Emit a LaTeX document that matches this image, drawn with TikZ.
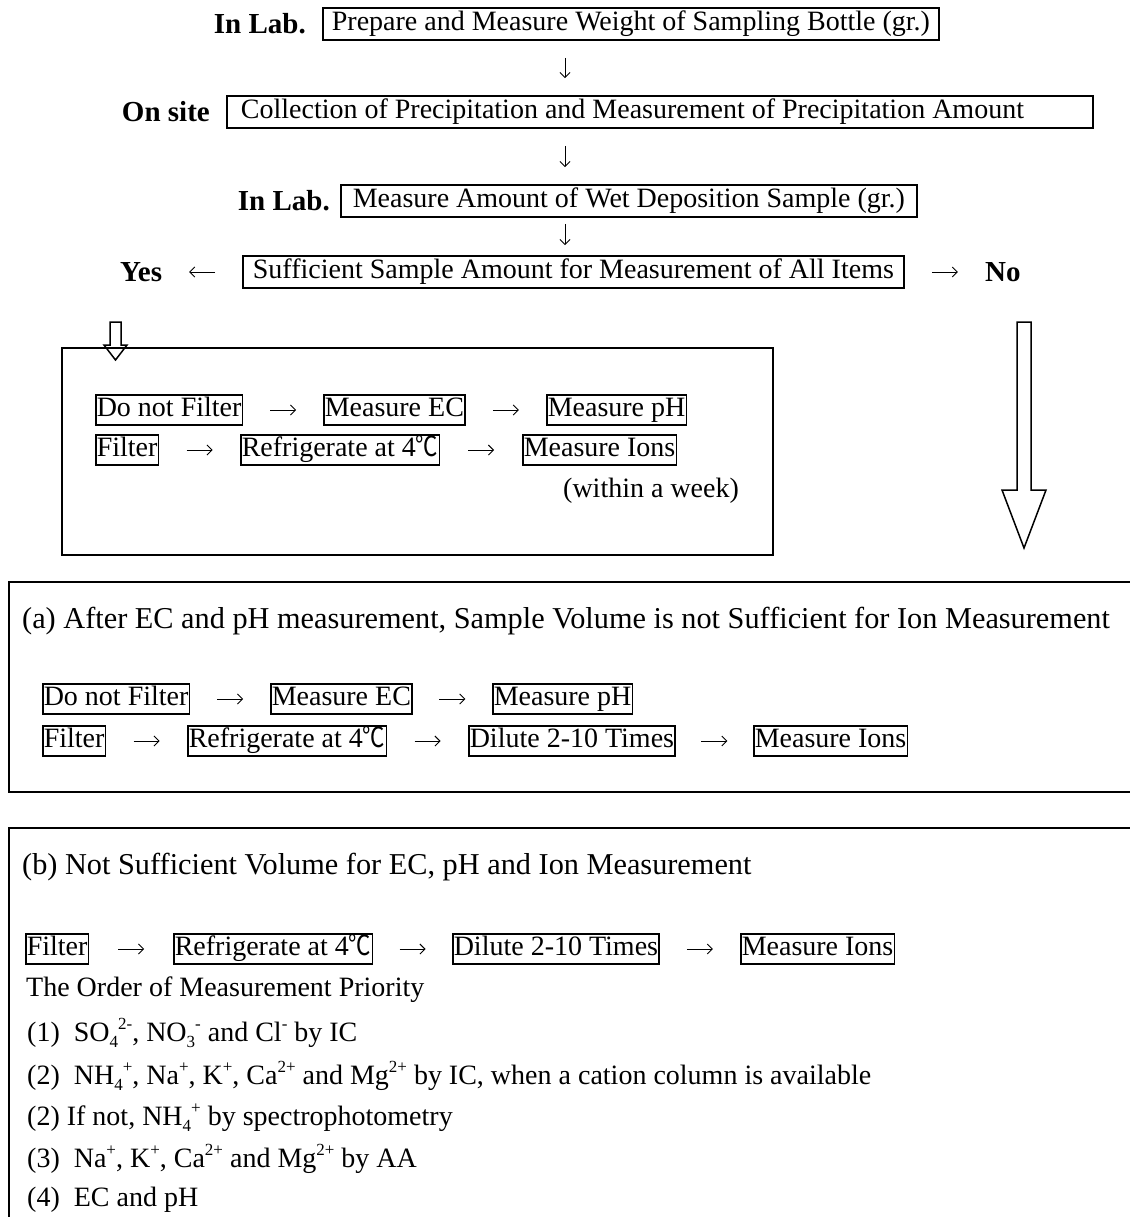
\documentclass[tikz,border=0pt]{standalone}
\usepackage{fontspec}
\setmainfont{Liberation Serif}
\newfontfamily\cjk{Noto Sans CJK JP}
\usetikzlibrary{arrows.meta,calc}
\newcommand{\degc}{\scalebox{0.8}[1]{\cjk ℃}}
\newcommand{\scr}{\fontsize{17}{17}\selectfont}
\newcommand{\subsup}[2]{\raisebox{-.22em}{\scr #1}\raisebox{.42em}{\scr #2}}
\newcommand{\sups}[1]{\raisebox{.42em}{\scr #1}}
\newcommand{\hconn}[2]{\draw[conn] ($(#1.east)!.5!(#2.west)+(-13,0)$) -- ($(#1.east)!.5!(#2.west)+(13,0)$);}
\begin{document}
\begin{tikzpicture}[x=1pt,y=-1pt,
  font=\fontsize{28}{42}\selectfont,
  mainbox/.style={draw, line width=1.8pt, inner xsep=9pt, inner ysep=2.5pt, text height=20pt, text depth=7pt},
  sbox/.style={draw, line width=1.5pt, inner xsep=1pt, inner ysep=1.5pt, text height=20pt, text depth=7pt},
  lbl/.style={font=\fontsize{29}{42}\selectfont\bfseries, inner sep=0pt},
  txt/.style={inner sep=0pt, anchor=west},
  ttl/.style={inner sep=0pt, anchor=west, font=\fontsize{30.3}{42}\selectfont},
  conn/.style={line width=0.9pt, -{Straight Barb[length=5pt,width=10pt]}},
  hollow/.style={draw, line width=1.5pt, fill=white, line join=miter},
  frame/.style={line width=1.5pt}]
\useasboundingbox (0,0) rectangle (1129,1217);
\coordinate (vx) at (565,0);

% top flow
\node[lbl, anchor=east] (l1) at (306,24) {In Lab.};
\node[mainbox, anchor=west, minimum width=613pt] (b1) at (322,24) {Prepare and Measure Weight of Sampling Bottle (gr.)};
\node[lbl, anchor=east] (l2) at (210,112) {On site};
\node[mainbox, anchor=west, inner xsep=14pt] (b2) at (226,112) {\makebox[838pt][l]{Collection of Precipitation and Measurement of Precipitation Amount}};
\node[lbl, anchor=east] (l3) at (330,201) {In Lab.};
\node[mainbox, anchor=west, minimum width=576pt] (b3) at (340,201) {Measure Amount of Wet Deposition Sample (gr.)};
\node[mainbox, anchor=west, minimum width=661pt] (b4) at (242,272) {Sufficient Sample Amount for Measurement of All Items};
\node[lbl, anchor=west] (yes) at (120,272) {Yes};
\node[lbl, anchor=west] (no) at (985,272) {No};

\draw[conn, shorten <=17pt, shorten >=17pt] (vx |- b1.south) -- (vx |- b2.north);
\draw[conn, shorten <=17pt, shorten >=17pt] (vx |- b2.south) -- (vx |- b3.north);
\draw[conn, shorten <=6pt, shorten >=10pt] (vx |- b3.south) -- (vx |- b4.north);
\draw[conn] ($(yes.east)!.5!(b4.west)+(13,0)$) -- ($(yes.east)!.5!(b4.west)+(-13,0)$);
\hconn{b4}{no}

% hollow arrows
\draw[hollow] (110,322) -- (121,322) -- (121,345) -- (127,345) -- (115.5,360) -- (104,345) -- (110,345) -- cycle;
\draw[hollow] (1017,322) -- (1031,322) -- (1031,490) -- (1046,490) -- (1024,548) -- (1002,490) -- (1017,490) -- cycle;

% yes box
\draw[frame] (62,348) rectangle (773,555);
\node[sbox, anchor=west] (y1) at (95,410) {Do not Filter};
\node[sbox, anchor=west] (y2) at (323,410) {Measure EC};
\node[sbox, anchor=west] (y3) at (546,410) {Measure pH};
\hconn{y1}{y2}\hconn{y2}{y3}
\node[sbox, anchor=west] (y4) at (95,450) {Filter};
\node[sbox, anchor=west] (y5) at (240,450) {Refrigerate at 4\degc};
\node[sbox, anchor=west] (y6) at (522,450) {Measure Ions};
\hconn{y4}{y5}\hconn{y5}{y6}
\node[txt] (wk) at (563,491) {(within a week)};

% box (a)
\draw[frame] (1130,582) -- (9,582) -- (9,792) -- (1130,792);
\node[ttl] (ta) at (22,621) {(a) After EC and pH measurement, Sample Volume is not Sufficient for Ion Measurement};
\node[sbox, anchor=west] (a1) at (42,699) {Do not Filter};
\node[sbox, anchor=west] (a2) at (270,699) {Measure EC};
\node[sbox, anchor=west] (a3) at (492,699) {Measure pH};
\hconn{a1}{a2}\hconn{a2}{a3}
\node[sbox, anchor=west] (a4) at (42,741) {Filter};
\node[sbox, anchor=west] (a5) at (187,741) {Refrigerate at 4\degc};
\node[sbox, anchor=west] (a6) at (468,741) {Dilute 2-10 Times};
\node[sbox, anchor=west] (a7) at (753,741) {Measure Ions};
\hconn{a4}{a5}\hconn{a5}{a6}\hconn{a6}{a7}

% box (b)
\draw[frame] (1130,828) -- (9,828) -- (9,1218);
\node[ttl] (tb) at (22,867) {(b) Not Sufficient Volume for EC, pH and Ion Measurement};
\node[sbox, anchor=west] (c1) at (25,949) {Filter};
\node[sbox, anchor=west] (c2) at (173,949) {Refrigerate at 4\degc};
\node[sbox, anchor=west] (c3) at (452,949) {Dilute 2-10 Times};
\node[sbox, anchor=west] (c4) at (740,949) {Measure Ions};
\hconn{c1}{c2}\hconn{c2}{c3}\hconn{c3}{c4}
\node[txt] (p0) at (26,990) {The Order of Measurement Priority};
\node[txt] (p1) at (27,1033) {(1)\ \ SO\subsup{4}{2-}, NO\subsup{3}{-} and Cl\sups{-} by IC};
\node[txt] (p2) at (27,1076) {(2)\ \ NH\subsup{4}{+}, Na\sups{+}, K\sups{+}, Ca\sups{2+} and Mg\sups{2+} by IC, when a cation column is available};
\node[txt] (p3) at (27,1118) {(2) If not, NH\subsup{4}{+} by spectrophotometry};
\node[txt] (p4) at (27,1159) {(3)\ \ Na\sups{+}, K\sups{+}, Ca\sups{2+} and Mg\sups{2+} by AA};
\node[txt] (p5) at (27,1200) {(4)\ \ EC and pH};
\end{tikzpicture}
\end{document}
